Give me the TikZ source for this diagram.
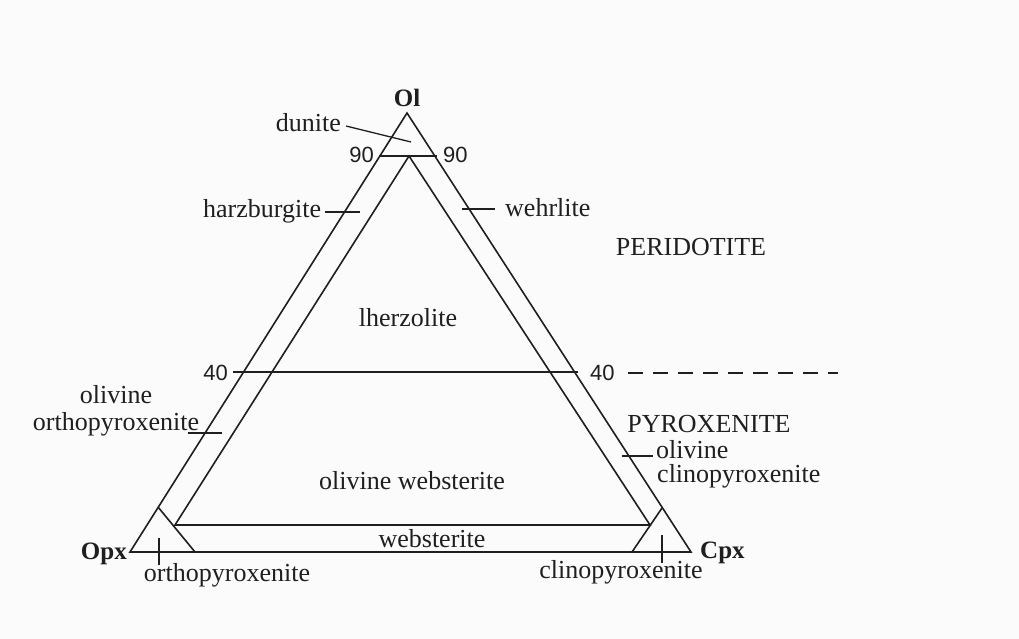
\documentclass[tikz,border=0pt]{standalone}
\usepackage{fontspec}
\setmainfont{Liberation Serif}
\setsansfont{Liberation Sans}
\usetikzlibrary{positioning}
\definecolor{inkgray}{gray}{0.12}
\definecolor{paper}{gray}{0.985}

\begin{document}
\begin{tikzpicture}[
  x=1pt, y=-1pt,
  node distance=3pt,
  edge/.style={draw=inkgray, line width=1.6pt, line join=miter},
  tick/.style={draw=inkgray, line width=1.3pt},
  cut/.style={draw=inkgray, line width=1.3pt, dash pattern=on 15pt off 10pt},
  rock/.style={font=\fontsize{26}{28}\selectfont, text=inkgray, inner sep=0pt},
  corner/.style={font=\fontsize{25}{27}\selectfont\bfseries, text=inkgray, inner sep=0pt},
  num/.style={font=\sffamily\fontsize{22}{24}\selectfont, text=inkgray, inner sep=0pt},
]
  \fill[paper] (0,0) rectangle (1019,639);
  \useasboundingbox (0,0) rectangle (1019,639);

  % outer triangle
  \coordinate (ol) at (407,113);
  \coordinate (opx) at (130,552);
  \coordinate (cpx) at (691,552);
  \draw[edge] (ol) -- (opx) -- (cpx) -- cycle;

  % 90 and 40 lines
  \coordinate (n90l) at (379,156);
  \coordinate (n90r) at (437,156);
  \coordinate (n40l) at (233,372);
  \coordinate (n40r) at (578,372);
  \draw[edge] (n90l) -- (n90r);
  \draw[edge] (n40l) -- (n40r);

  % inner triangle
  \coordinate (ia) at (409,156);
  \coordinate (ibl) at (175,525);
  \coordinate (ibr) at (650,525);
  \draw[edge] (ibl) -- (ia) -- (ibr) -- cycle;

  % corner triangles
  \coordinate (opxtop) at (158,507);
  \coordinate (opxfoot) at (195,552);
  \coordinate (cpxtop) at (662,508);
  \coordinate (cpxfoot) at (632,552);
  \draw[edge] (opxtop) -- (opxfoot);
  \draw[edge] (cpxtop) -- (cpxfoot);

  % apices
  \node[corner, anchor=base] (olname) at (407,107) {Ol};
  \node[corner, anchor=base east] (opxname) at (127,559) {Opx};
  \node[corner, anchor=base west] (cpxname) at (700,558) {Cpx};

  % percentages
  \node[num, anchor=base east] (p90l) at (374,163) {90};
  \node[num, anchor=base west] (p90r) at (443,163) {90};
  \node[num, anchor=base east] (p40l) at (228,380) {40};
  \node[num, anchor=base west] (p40r) at (590,380) {40};
  \coordinate (cutstart) at (628,373);
  \coordinate (cutend) at (838,373);
  \draw[cut] (cutstart) -- (cutend);

  % rock names
  \node[rock, anchor=base east] (dunite) at (341,132) {dunite};
  \coordinate (duniteA) at (346,126);
  \coordinate (duniteB) at (411,142);
  \draw[tick] (duniteA) -- (duniteB);

  \node[rock, anchor=base west] (harz) at (203,217) {harzburgite};
  \coordinate (harzA) at (325,212);
  \coordinate (harzB) at (360,212);
  \draw[tick] (harzA) -- (harzB);

  \node[rock, anchor=base west] (wehr) at (505,216) {wehrlite};
  \coordinate (wehrA) at (462,209);
  \coordinate (wehrB) at (495,209);
  \draw[tick] (wehrA) -- (wehrB);

  \node[rock, anchor=base] (perid) at (691,255) {PERIDOTITE};
  \node[rock, anchor=base] (lherz) at (408,326) {lherzolite};
  \node[rock, anchor=base] (pyrox) at (709,432) {PYROXENITE};

  \node[rock, anchor=base] (olopx1) at (116,403) {olivine};
  \node[rock, anchor=base] (olopx2) at (116,430) {orthopyroxenite};
  \coordinate (olopxA) at (188,433);
  \coordinate (olopxB) at (222,433);
  \draw[tick] (olopxA) -- (olopxB);

  \node[rock, anchor=base west] (olcpx1) at (656,458) {olivine};
  \node[rock, anchor=base west] (olcpx2) at (657,482) {clinopyroxenite};
  \coordinate (olcpxA) at (622,456);
  \coordinate (olcpxB) at (653,456);
  \draw[tick] (olcpxA) -- (olcpxB);

  \node[rock, anchor=base] (olweb) at (412,489) {olivine websterite};
  \node[rock, anchor=base] (web) at (432,547) {websterite};

  \node[rock, anchor=base] (opxrock) at (227,581) {orthopyroxenite};
  \coordinate (opxtickA) at (159,538);
  \coordinate (opxtickB) at (159,565);
  \draw[tick] (opxtickA) -- (opxtickB);

  \node[rock, anchor=base] (cpxrock) at (621,578) {clinopyroxenite};
  \coordinate (cpxtickA) at (662,535);
  \coordinate (cpxtickB) at (662,563);
  \draw[tick] (cpxtickA) -- (cpxtickB);
\end{tikzpicture}
\end{document}
